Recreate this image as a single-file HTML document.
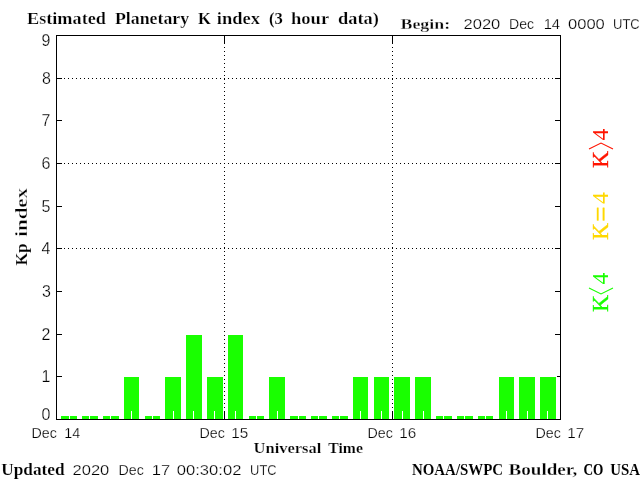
<!DOCTYPE html><html><head><meta charset="utf-8"><style>html,body{margin:0;padding:0;background:#fff;overflow:hidden}svg{display:block;will-change:transform}text{white-space:pre}</style></head><body><svg width="640" height="480" viewBox="0 0 640 480"><rect x="0" y="0" width="640" height="480" fill="#fff"/>
<g shape-rendering="crispEdges">
<rect x="61" y="416" width="16" height="3" fill="#19ff00"/>
<rect x="82" y="416" width="16" height="3" fill="#19ff00"/>
<rect x="103" y="416" width="16" height="3" fill="#19ff00"/>
<rect x="124" y="377" width="15" height="42" fill="#19ff00"/>
<rect x="145" y="416" width="15" height="3" fill="#19ff00"/>
<rect x="165" y="377" width="16" height="42" fill="#19ff00"/>
<rect x="186" y="335" width="16" height="84" fill="#19ff00"/>
<rect x="207" y="377" width="16" height="42" fill="#19ff00"/>
<rect x="228" y="335" width="15" height="84" fill="#19ff00"/>
<rect x="249" y="416" width="15" height="3" fill="#19ff00"/>
<rect x="269" y="377" width="16" height="42" fill="#19ff00"/>
<rect x="290" y="416" width="16" height="3" fill="#19ff00"/>
<rect x="311" y="416" width="16" height="3" fill="#19ff00"/>
<rect x="332" y="416" width="16" height="3" fill="#19ff00"/>
<rect x="353" y="377" width="15" height="42" fill="#19ff00"/>
<rect x="374" y="377" width="15" height="42" fill="#19ff00"/>
<rect x="394" y="377" width="16" height="42" fill="#19ff00"/>
<rect x="415" y="377" width="16" height="42" fill="#19ff00"/>
<rect x="436" y="416" width="16" height="3" fill="#19ff00"/>
<rect x="457" y="416" width="16" height="3" fill="#19ff00"/>
<rect x="478" y="416" width="15" height="3" fill="#19ff00"/>
<rect x="499" y="377" width="15" height="42" fill="#19ff00"/>
<rect x="519" y="377" width="16" height="42" fill="#19ff00"/>
<rect x="540" y="377" width="16" height="42" fill="#19ff00"/>
<rect x="69" y="411" width="1" height="8" fill="#fff"/>
<rect x="89" y="411" width="1" height="8" fill="#fff"/>
<rect x="110" y="411" width="1" height="8" fill="#fff"/>
<rect x="131" y="411" width="1" height="8" fill="#fff"/>
<rect x="152" y="411" width="1" height="8" fill="#fff"/>
<rect x="173" y="411" width="1" height="8" fill="#fff"/>
<rect x="193" y="411" width="1" height="8" fill="#fff"/>
<rect x="214" y="411" width="1" height="8" fill="#fff"/>
<rect x="235" y="411" width="1" height="8" fill="#fff"/>
<rect x="256" y="411" width="1" height="8" fill="#fff"/>
<rect x="277" y="411" width="1" height="8" fill="#fff"/>
<rect x="298" y="411" width="1" height="8" fill="#fff"/>
<rect x="318" y="411" width="1" height="8" fill="#fff"/>
<rect x="339" y="411" width="1" height="8" fill="#fff"/>
<rect x="360" y="411" width="1" height="8" fill="#fff"/>
<rect x="381" y="411" width="1" height="8" fill="#fff"/>
<rect x="402" y="411" width="1" height="8" fill="#fff"/>
<rect x="423" y="411" width="1" height="8" fill="#fff"/>
<rect x="443" y="411" width="1" height="8" fill="#fff"/>
<rect x="464" y="411" width="1" height="8" fill="#fff"/>
<rect x="485" y="411" width="1" height="8" fill="#fff"/>
<rect x="506" y="411" width="1" height="8" fill="#fff"/>
<rect x="527" y="411" width="1" height="8" fill="#fff"/>
<rect x="547" y="411" width="1" height="8" fill="#fff"/>
<line x1="56" y1="248.5" x2="561" y2="248.5" stroke="#000" stroke-width="1" stroke-dasharray="1 3"/>
<line x1="56" y1="163.5" x2="561" y2="163.5" stroke="#000" stroke-width="1" stroke-dasharray="1 3"/>
<line x1="56" y1="78.5" x2="561" y2="78.5" stroke="#000" stroke-width="1" stroke-dasharray="1 3"/>
<line x1="224.5" y1="35" x2="224.5" y2="420" stroke="#000" stroke-width="1" stroke-dasharray="1 3"/>
<line x1="392.5" y1="35" x2="392.5" y2="420" stroke="#000" stroke-width="1" stroke-dasharray="1 3"/>
<rect x="56" y="35" width="505" height="1" fill="#000"/>
<rect x="56" y="419" width="505" height="1" fill="#000"/>
<rect x="56" y="35" width="1" height="385" fill="#000"/>
<rect x="560" y="35" width="1" height="385" fill="#000"/>
<rect x="57" y="376" width="5" height="1" fill="#000"/>
<rect x="557" y="376" width="3" height="1" fill="#000"/>
<rect x="57" y="334" width="5" height="1" fill="#000"/>
<rect x="555" y="334" width="5" height="1" fill="#000"/>
<rect x="57" y="291" width="5" height="1" fill="#000"/>
<rect x="555" y="291" width="5" height="1" fill="#000"/>
<rect x="57" y="248" width="5" height="1" fill="#000"/>
<rect x="555" y="248" width="5" height="1" fill="#000"/>
<rect x="57" y="206" width="5" height="1" fill="#000"/>
<rect x="555" y="206" width="5" height="1" fill="#000"/>
<rect x="57" y="163" width="5" height="1" fill="#000"/>
<rect x="555" y="163" width="5" height="1" fill="#000"/>
<rect x="57" y="120" width="5" height="1" fill="#000"/>
<rect x="555" y="120" width="5" height="1" fill="#000"/>
<rect x="57" y="78" width="5" height="1" fill="#000"/>
<rect x="555" y="78" width="5" height="1" fill="#000"/>
<rect x="224" y="36" width="1" height="8" fill="#000"/>
<rect x="224" y="411" width="1" height="8" fill="#000"/>
<rect x="392" y="36" width="1" height="8" fill="#000"/>
<rect x="392" y="411" width="1" height="8" fill="#000"/>
</g>
<polyline points="589,149 601,143 613,149" fill="none" stroke="#ff1400" stroke-width="1.1"/>
<polyline points="589,288 601,294 613,288" fill="none" stroke="#19ff00" stroke-width="1.1"/>
<text x="41.50" y="420.00" font-family='"Liberation Sans", sans-serif' font-weight="400" font-size="16.0" fill="#000" stroke="#fff" stroke-width="0.25">0</text>
<text x="41.50" y="382.00" font-family='"Liberation Sans", sans-serif' font-weight="400" font-size="16.0" fill="#000" stroke="#fff" stroke-width="0.25">1</text>
<text x="41.50" y="340.00" font-family='"Liberation Sans", sans-serif' font-weight="400" font-size="16.0" fill="#000" stroke="#fff" stroke-width="0.25">2</text>
<text x="42.00" y="297.00" font-family='"Liberation Sans", sans-serif' font-weight="400" font-size="16.0" fill="#000" stroke="#fff" stroke-width="0.25">3</text>
<text x="41.50" y="254.00" font-family='"Liberation Sans", sans-serif' font-weight="400" font-size="16.0" fill="#000" stroke="#fff" stroke-width="0.25">4</text>
<text x="41.50" y="212.00" font-family='"Liberation Sans", sans-serif' font-weight="400" font-size="16.0" fill="#000" stroke="#fff" stroke-width="0.25">5</text>
<text x="41.50" y="169.00" font-family='"Liberation Sans", sans-serif' font-weight="400" font-size="16.0" fill="#000" stroke="#fff" stroke-width="0.25">6</text>
<text x="41.50" y="126.00" font-family='"Liberation Sans", sans-serif' font-weight="400" font-size="16.0" fill="#000" stroke="#fff" stroke-width="0.25">7</text>
<text x="42.00" y="84.00" font-family='"Liberation Sans", sans-serif' font-weight="400" font-size="16.0" fill="#000" stroke="#fff" stroke-width="0.25">8</text>
<text x="41.50" y="46.00" font-family='"Liberation Sans", sans-serif' font-weight="400" font-size="16.0" fill="#000" stroke="#fff" stroke-width="0.25">9</text>
<text x="31.50" y="438.00" font-family='"Liberation Sans", sans-serif' font-weight="400" font-size="14.8" fill="#000" textLength="25.33" lengthAdjust="spacingAndGlyphs" stroke="#fff" stroke-width="0.25">Dec</text>
<text x="64.25" y="438.00" font-family='"Liberation Sans", sans-serif' font-weight="400" font-size="14.8" fill="#000" textLength="15.97" lengthAdjust="spacingAndGlyphs" stroke="#fff" stroke-width="0.25">14</text>
<text x="199.50" y="438.00" font-family='"Liberation Sans", sans-serif' font-weight="400" font-size="14.8" fill="#000" textLength="25.33" lengthAdjust="spacingAndGlyphs" stroke="#fff" stroke-width="0.25">Dec</text>
<text x="231.25" y="438.00" font-family='"Liberation Sans", sans-serif' font-weight="400" font-size="14.8" fill="#000" textLength="16.97" lengthAdjust="spacingAndGlyphs" stroke="#fff" stroke-width="0.25">15</text>
<text x="367.50" y="438.00" font-family='"Liberation Sans", sans-serif' font-weight="400" font-size="14.8" fill="#000" textLength="25.33" lengthAdjust="spacingAndGlyphs" stroke="#fff" stroke-width="0.25">Dec</text>
<text x="399.25" y="438.00" font-family='"Liberation Sans", sans-serif' font-weight="400" font-size="14.8" fill="#000" textLength="16.97" lengthAdjust="spacingAndGlyphs" stroke="#fff" stroke-width="0.25">16</text>
<text x="535.50" y="438.00" font-family='"Liberation Sans", sans-serif' font-weight="400" font-size="14.8" fill="#000" textLength="25.33" lengthAdjust="spacingAndGlyphs" stroke="#fff" stroke-width="0.25">Dec</text>
<text x="567.25" y="438.00" font-family='"Liberation Sans", sans-serif' font-weight="400" font-size="14.8" fill="#000" textLength="16.97" lengthAdjust="spacingAndGlyphs" stroke="#fff" stroke-width="0.25">17</text>
<text x="463.50" y="28.80" font-family='"Liberation Sans", sans-serif' font-weight="400" font-size="15.2" fill="#000" textLength="36.80" lengthAdjust="spacingAndGlyphs" stroke="#fff" stroke-width="0.25">2020</text>
<text x="509.00" y="28.80" font-family='"Liberation Sans", sans-serif' font-weight="400" font-size="15.2" fill="#000" textLength="25.02" lengthAdjust="spacingAndGlyphs" stroke="#fff" stroke-width="0.25">Dec</text>
<text x="543.65" y="28.80" font-family='"Liberation Sans", sans-serif' font-weight="400" font-size="15.2" fill="#000" textLength="16.41" lengthAdjust="spacingAndGlyphs" stroke="#fff" stroke-width="0.25">14</text>
<text x="568.00" y="28.80" font-family='"Liberation Sans", sans-serif' font-weight="400" font-size="15.2" fill="#000" textLength="36.80" lengthAdjust="spacingAndGlyphs" stroke="#fff" stroke-width="0.25">0000</text>
<text x="613.05" y="28.80" font-family='"Liberation Sans", sans-serif' font-weight="400" font-size="15.2" fill="#000" textLength="26.72" lengthAdjust="spacingAndGlyphs" stroke="#fff" stroke-width="0.25">UTC</text>
<text x="72.50" y="475.10" font-family='"Liberation Sans", sans-serif' font-weight="400" font-size="15.2" fill="#000" textLength="36.80" lengthAdjust="spacingAndGlyphs" stroke="#fff" stroke-width="0.25">2020</text>
<text x="118.62" y="475.10" font-family='"Liberation Sans", sans-serif' font-weight="400" font-size="15.2" fill="#000" textLength="25.27" lengthAdjust="spacingAndGlyphs" stroke="#fff" stroke-width="0.25">Dec</text>
<text x="151.75" y="475.10" font-family='"Liberation Sans", sans-serif' font-weight="400" font-size="15.2" fill="#000" textLength="18.41" lengthAdjust="spacingAndGlyphs" stroke="#fff" stroke-width="0.25">17</text>
<text x="176.75" y="475.10" font-family='"Liberation Sans", sans-serif' font-weight="400" font-size="15.2" fill="#000" textLength="64.62" lengthAdjust="spacingAndGlyphs" stroke="#fff" stroke-width="0.25">00:30:02</text>
<text x="250.12" y="475.10" font-family='"Liberation Sans", sans-serif' font-weight="400" font-size="15.2" fill="#000" textLength="26.47" lengthAdjust="spacingAndGlyphs" stroke="#fff" stroke-width="0.25">UTC</text>
<text x="27.00" y="24.00" font-family='"Liberation Serif", serif' font-weight="700" font-size="16.6" fill="#000" textLength="78.91" lengthAdjust="spacingAndGlyphs" stroke="#fff" stroke-width="0.24">Estimated</text>
<text x="115.00" y="24.00" font-family='"Liberation Serif", serif' font-weight="700" font-size="16.6" fill="#000" textLength="74.12" lengthAdjust="spacingAndGlyphs" stroke="#fff" stroke-width="0.21">Planetary</text>
<text x="198.00" y="24.00" font-family='"Liberation Serif", serif' font-weight="700" font-size="16.6" fill="#000" stroke="#fff" stroke-width="0.15">K</text>
<text x="216.75" y="24.00" font-family='"Liberation Serif", serif' font-weight="700" font-size="16.6" fill="#000" textLength="43.23" lengthAdjust="spacingAndGlyphs" stroke="#fff" stroke-width="0.24">index</text>
<text x="269.00" y="24.00" font-family='"Liberation Serif", serif' font-weight="700" font-size="16.6" fill="#000" textLength="13.83" lengthAdjust="spacingAndGlyphs" stroke="#fff" stroke-width="0.16">(3</text>
<text x="291.00" y="24.00" font-family='"Liberation Serif", serif' font-weight="700" font-size="16.6" fill="#000" textLength="38.12" lengthAdjust="spacingAndGlyphs" stroke="#fff" stroke-width="0.25">hour</text>
<text x="338.00" y="24.00" font-family='"Liberation Serif", serif' font-weight="700" font-size="16.6" fill="#000" textLength="40.88" lengthAdjust="spacingAndGlyphs" stroke="#fff" stroke-width="0.23">data)</text>
<text x="400.50" y="28.50" font-family='"Liberation Serif", serif' font-weight="700" font-size="15.0" fill="#000" textLength="49.67" lengthAdjust="spacingAndGlyphs" stroke="#fff" stroke-width="0.29">Begin:</text>
<text x="253.60" y="453.00" font-family='"Liberation Serif", serif' font-weight="700" font-size="15.0" fill="#000" textLength="67.67" lengthAdjust="spacingAndGlyphs" stroke="#fff" stroke-width="0.23">Universal</text>
<text x="328.35" y="453.00" font-family='"Liberation Serif", serif' font-weight="700" font-size="15.0" fill="#000" textLength="34.56" lengthAdjust="spacingAndGlyphs" stroke="#fff" stroke-width="0.17">Time</text>
<text x="1.25" y="475.00" font-family='"Liberation Serif", serif' font-weight="700" font-size="16.6" fill="#000" textLength="63.36" lengthAdjust="spacingAndGlyphs" stroke="#fff" stroke-width="0.17">Updated</text>
<text x="411.98" y="475.00" font-family='"Liberation Serif", serif' font-weight="700" font-size="16.6" fill="#000" textLength="91.17" lengthAdjust="spacingAndGlyphs" stroke="#fff" stroke-width="0.06">NOAA/SWPC</text>
<text x="508.50" y="475.00" font-family='"Liberation Serif", serif' font-weight="700" font-size="16.6" fill="#000" textLength="68.80" lengthAdjust="spacingAndGlyphs" stroke="#fff" stroke-width="0.27">Boulder,</text>
<text x="583.50" y="475.00" font-family='"Liberation Serif", serif' font-weight="700" font-size="16.6" fill="#000" textLength="19.89" lengthAdjust="spacingAndGlyphs" stroke="#000" stroke-width="0.06">CO</text>
<text x="610.25" y="475.00" font-family='"Liberation Serif", serif' font-weight="700" font-size="16.6" fill="#000" textLength="29.70" lengthAdjust="spacingAndGlyphs" stroke="#fff" stroke-width="0.02">USA</text>
<text transform="translate(27.30,265.42) rotate(-90)" font-family='"Liberation Serif", serif' font-weight="700" font-size="16.6" fill="#000" textLength="21.89" lengthAdjust="spacingAndGlyphs" stroke="#fff" stroke-width="0.13">Kp</text>
<text transform="translate(27.30,236.87) rotate(-90)" font-family='"Liberation Serif", serif' font-weight="700" font-size="16.6" fill="#000" textLength="48.98" lengthAdjust="spacingAndGlyphs" stroke="#fff" stroke-width="0.36">index</text>
<text transform="translate(608.00,168.00) rotate(-90)" font-family='"Liberation Serif", serif' font-weight="400" font-size="23.6" fill="#ff1400" stroke="#ff1400" stroke-width="0.35">K</text>
<text transform="translate(608.00,140.60) rotate(-90)" font-family='"Liberation Serif", serif' font-weight="400" font-size="23.6" fill="#ff1400">4</text>
<text transform="translate(608.00,240.00) rotate(-90)" font-family='"Liberation Serif", serif' font-weight="400" font-size="23.6" fill="#ffd800" stroke="#ffd800" stroke-width="0.35">K</text>
<text transform="translate(610.00,221.85) rotate(-90)" font-family='"Liberation Serif", serif' font-weight="400" font-size="27" fill="#ffd800" stroke="#ffd800" stroke-width="0.35">=</text>
<text transform="translate(608.00,204.12) rotate(-90)" font-family='"Liberation Serif", serif' font-weight="400" font-size="23.6" fill="#ffd800">4</text>
<text transform="translate(608.00,312.00) rotate(-90)" font-family='"Liberation Serif", serif' font-weight="400" font-size="23.6" fill="#19ff00" stroke="#19ff00" stroke-width="0.35">K</text>
<text transform="translate(608.00,284.62) rotate(-90)" font-family='"Liberation Serif", serif' font-weight="400" font-size="23.6" fill="#19ff00">4</text></svg></body></html>
